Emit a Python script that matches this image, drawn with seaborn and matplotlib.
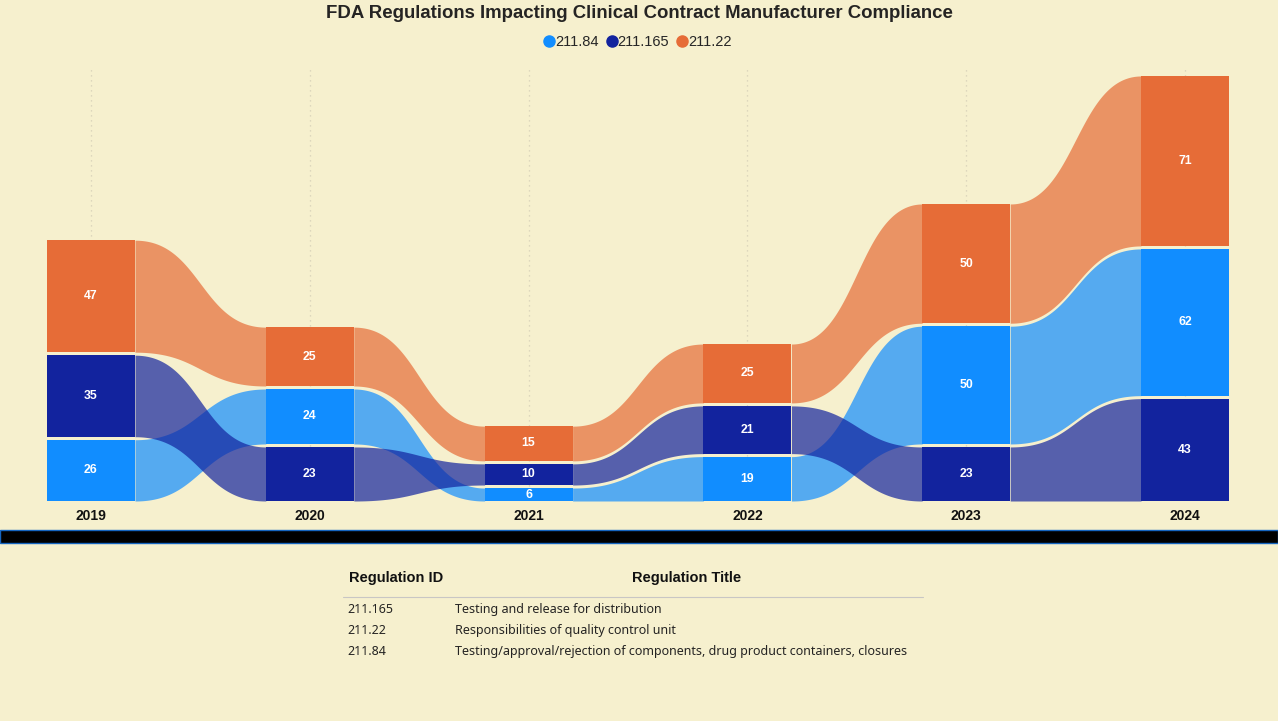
import numpy as np
import pandas as pd
import matplotlib
matplotlib.use("Agg")
import matplotlib.pyplot as plt
from matplotlib.lines import Line2D
from matplotlib.patches import Rectangle
import seaborn as sns

# ---------------- data ----------------
years = ["2019", "2020", "2021", "2022", "2023", "2024"]
series_ids = ["211.84", "211.165", "211.22"]
vals_211_84 = [26, 24, 6, 19, 50, 62]
vals_211_165 = [35, 23, 10, 21, 23, 43]
vals_211_22 = [47, 25, 15, 25, 50, 71]
series_colors = ["#118DFF", "#12239E", "#E66C37"]

table_ids = ["211.165", "211.22", "211.84"]
table_titles = [
    "Testing and release for distribution",
    "Responsibilities of quality control unit",
    "Testing/approval/rejection of components, drug product containers, closures",
]

title = "FDA Regulations Impacting Clinical Contract Manufacturer Compliance"

# ---------------- style ----------------
BG = "#F6F0CE"
sns.set_theme(style="white", rc={"figure.facecolor": BG, "axes.facecolor": BG})
plt.rcParams["font.family"] = ["Liberation Sans", "DejaVu Sans"]

W, H = 1278, 721
fig = plt.figure(figsize=(W / 100, H / 100), dpi=100)

def fy(px):  # pixel-from-top to figure fraction
    return 1 - px / H

def fx(px):
    return px / W

base_px, top_px = 501, 67
ppu = 2.415  # pixels per unit
step_px = 218.8
x0_px = 91
ax = fig.add_axes([0, fy(base_px), 1, (base_px - top_px) / H])
ax.set_facecolor(BG)
ax.set_xlim(-x0_px / step_px, (W - x0_px) / step_px)
ax.set_ylim(0, (base_px - top_px) / ppu)
for s in ax.spines.values():
    s.set_visible(False)
ax.set_yticks([])

df = pd.DataFrame({"year": years, series_ids[0]: vals_211_84,
                   series_ids[1]: vals_211_165, series_ids[2]: vals_211_22})

n = len(years)
k = len(series_ids)
gap = 3 / ppu
bw = 88 / step_px

# compute stacked positions (ascending value from bottom)
lo = np.zeros((k, n))
hi = np.zeros((k, n))
for j in range(n):
    v = [df[s].iloc[j] for s in series_ids]
    order = sorted(range(k), key=lambda i: v[i])
    cum = 0.0
    for r, i in enumerate(order):
        b = cum
        t = cum + v[i]
        lo[i, j] = b + (gap / 2 if r > 0 else 0)
        hi[i, j] = t - (gap / 2 if r < k - 1 else 0)
        cum = t

# grid lines
ax.vlines(range(n), 0, ax.get_ylim()[1], colors="#D6D0B8", linestyles=(0, (1, 3)),
          lw=0.9, zorder=0)

# ribbons
tt = np.linspace(0, 1, 120)
for i in range(k):
    for j in range(n - 1):
        xa = j + bw / 2
        xb = j + 1 - bw / 2
        d = xb - xa
        xs = xa + d * (1.5 * tt - 1.5 * tt**2 + tt**3)
        sm = 3 * tt**2 - 2 * tt**3
        yb = lo[i, j] + (lo[i, j + 1] - lo[i, j]) * sm
        yt = hi[i, j] + (hi[i, j + 1] - hi[i, j]) * sm
        ax.fill_between(xs, yb, yt, color=series_colors[i], alpha=0.7, lw=0, zorder=2)

# bars
for i, sid in enumerate(series_ids):
    ax.bar(range(n), hi[i] - lo[i], bottom=lo[i], width=bw, color=series_colors[i],
           lw=0, zorder=3)
    for j in range(n):
        ax.text(j, (lo[i, j] + hi[i, j]) / 2, str(df[sid].iloc[j]), color="white",
                ha="center", va="center", fontsize=8.8, fontweight="bold", zorder=4)

ax.set_xticks(range(n))
ax.set_xticklabels(years, fontweight="bold", fontsize=10, color="#111111")
ax.tick_params(axis="x", length=0, pad=5.5)

# title
fig.text(0.5, fy(13), title, ha="center", va="center", fontsize=13.4,
         fontweight="bold", color="#252423")

# legend
handles = [Line2D([], [], marker="o", ls="", color=c, markersize=8) for c in series_colors]
fig.legend(handles, series_ids, loc="center", bbox_to_anchor=(fx(636), fy(42)), ncol=3,
           frameon=False, handletextpad=-0.2, columnspacing=0.3, fontsize=10.5,
           handlelength=1.2)

# black band
fig.patches.append(Rectangle((0, fy(543)), 1, (543 - 530) / H, transform=fig.transFigure,
                             facecolor="black", edgecolor="#1565C0", lw=1))

# table
fig.text(fx(349), fy(578), "Regulation ID", ha="left", va="center", fontsize=10.5,
         fontweight="bold", color="#111111")
fig.text(fx(687), fy(578), "Regulation Title", ha="center", va="center", fontsize=10.5,
         fontweight="bold", color="#111111")
fig.add_artist(Line2D([fx(343), fx(923)], [fy(597), fy(597)], color="#C8C6C4", lw=0.8))
for r, (rid, rt) in enumerate(zip(table_ids, table_titles)):
    y = fy(613 + 21 * r)
    fig.text(fx(347), y, rid, ha="left", va="baseline", fontsize=9, color="#252423",
             family=["Noto Sans", "DejaVu Sans"])
    fig.text(fx(455), y, rt, ha="left", va="baseline", fontsize=9, color="#252423",
             family=["Noto Sans", "DejaVu Sans"])

fig.savefig("out.png", dpi=100, facecolor=BG)
